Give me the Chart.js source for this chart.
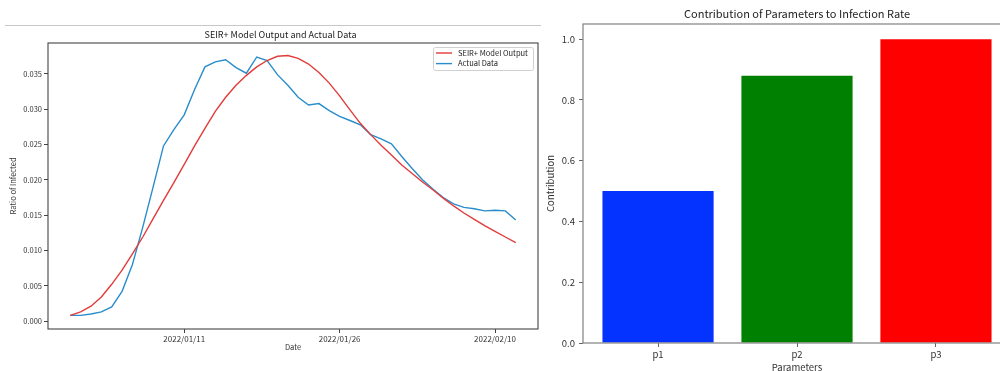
<!DOCTYPE html>
<html><head><meta charset="utf-8">
<script src="https://cdn.jsdelivr.net/npm/chart.js@4.4.0/dist/chart.umd.min.js"></script>
<style>
html,body{margin:0;padding:0;background:#fff;width:1004px;height:371px;overflow:hidden;position:relative;}
#sep{position:absolute;left:5px;top:25px;width:536px;height:1px;background:#c8c8c8;}
#c1{position:absolute;left:0;top:0;width:561px;height:371px;}
#wrap2{position:absolute;left:540px;top:0;width:460px;height:371px;overflow:hidden;}
#c2{position:absolute;left:0;top:0;width:514px;height:380px;}
</style></head><body>
<div id="sep"></div>
<canvas id="c1" width="561" height="371"></canvas>
<div id="wrap2"><canvas id="c2" width="514" height="380"></canvas></div>
<script>
// ---------- data: left chart ----------
const dates = ['2021/12/31','2022/01/01','2022/01/02','2022/01/03','2022/01/04','2022/01/05','2022/01/06','2022/01/07','2022/01/08','2022/01/09',
  '2022/01/10','2022/01/11','2022/01/12','2022/01/13','2022/01/14','2022/01/15','2022/01/16','2022/01/17','2022/01/18','2022/01/19',
  '2022/01/20','2022/01/21','2022/01/22','2022/01/23','2022/01/24','2022/01/25','2022/01/26','2022/01/27','2022/01/28','2022/01/29',
  '2022/01/30','2022/01/31','2022/02/01','2022/02/02','2022/02/03','2022/02/04','2022/02/05','2022/02/06','2022/02/07','2022/02/08',
  '2022/02/09','2022/02/10','2022/02/11','2022/02/12'];
const seirModel = [0.0008,0.0013,0.0021,0.0034,0.0052,0.0072,0.0095,0.0119,0.0145,0.0171,
  0.0196,0.0222,0.0248,0.0273,0.0297,0.0317,0.0334,0.0348,0.0360,0.0369,
  0.0375,0.0376,0.0372,0.0364,0.0352,0.0337,0.0319,0.0299,0.0280,0.0264,
  0.0249,0.0235,0.0221,0.0209,0.0197,0.0186,0.0174,0.0163,0.0153,0.0144,
  0.0135,0.0127,0.0119,0.0111];
const actualData = [0.0008,0.0008,0.0010,0.0013,0.0020,0.0042,0.0080,0.0133,0.0190,0.0248,
  0.0271,0.0292,0.0328,0.0360,0.0367,0.0370,0.0359,0.0351,0.0374,0.0369,
  0.0349,0.0334,0.0317,0.0306,0.0308,0.0298,0.0290,0.0284,0.0278,0.0264,
  0.0258,0.0251,0.0233,0.0216,0.0200,0.0187,0.0175,0.0166,0.0161,0.0159,
  0.0156,0.0157,0.0156,0.0143];
const xTickLabels = ['2022/01/11','2022/01/26','2022/02/10'];
const yTicksLeft = [0.000,0.005,0.010,0.015,0.020,0.025,0.030,0.035];

// ---------- data: right chart ----------
const params = ['p1','p2','p3'];
const contributions = [0.50,0.88,1.00];
const yTicksRight = [0.0,0.2,0.4,0.6,0.8,1.0];

// ---------- styles ----------
const barColors = ['#0433ff','#008000','#ff0000'];
const FONT = "'Noto Sans CJK JP','Noto Sans',sans-serif";
Chart.defaults.font.family = FONT;
Chart.defaults.color = '#333';

const framePlugin = (color, width) => ({
  id: 'frame',
  afterDraw(chart) {
    const {ctx, chartArea: a} = chart;
    ctx.save();
    ctx.strokeStyle = color; ctx.lineWidth = width;
    ctx.strokeRect(a.left, a.top, a.right - a.left, a.bottom - a.top);
    ctx.restore();
  }
});

const boxLegend = {
  id: 'boxLegend',
  afterDraw(chart) {
    const {ctx, chartArea: a} = chart;
    const w = 100, h = 23, right = a.right - 5, top = a.top + 4, left = right - w;
    ctx.save();
    ctx.fillStyle = 'rgba(255,255,255,0.85)';
    ctx.strokeStyle = '#d0d0d0'; ctx.lineWidth = 1;
    ctx.beginPath();
    if (ctx.roundRect) ctx.roundRect(left + 0.5, top + 0.5, w, h, 2); else ctx.rect(left + 0.5, top + 0.5, w, h);
    ctx.fill(); ctx.stroke();
    ctx.font = '7.5px ' + FONT;
    ctx.textBaseline = 'middle';
    chart.data.datasets.forEach((ds, i) => {
      const y = top + 6 + i * 10.6;
      ctx.strokeStyle = ds.borderColor; ctx.lineWidth = 1.4;
      ctx.beginPath(); ctx.moveTo(left + 3, y); ctx.lineTo(left + 19, y); ctx.stroke();
      ctx.fillStyle = '#222';
      ctx.fillText(ds.label, left + 25, y);
    });
    ctx.restore();
  }
};

new Chart(document.getElementById('c1'), {
  type: 'line',
  data: {
    datasets: [
      {label: 'SEIR+ Model Output', data: seirModel.map((v, i) => ({x: i, y: v})), borderColor: '#e23b3b', borderWidth: 1.4, pointRadius: 0, tension: 0, fill: false},
      {label: 'Actual Data', data: actualData.map((v, i) => ({x: i, y: v})), borderColor: '#2a8dcb', borderWidth: 1.4, pointRadius: 0, tension: 0, fill: false}
    ]
  },
  options: {
    responsive: false, animation: false, devicePixelRatio: 1,
    layout: {padding: 0},
    plugins: {
      legend: {display: false}, tooltip: {enabled: false},
      title: {display: true, text: 'SEIR+ Model Output and Actual Data', color: '#222',
        font: {size: 9, weight: 'normal'}, padding: {top: 29.6, bottom: 2.6}}
    },
    scales: {
      x: {
        type: 'linear', min: -2.15, max: 45.15, offset: false,
        afterBuildTicks: s => { s.ticks = xTickLabels.map(l => ({value: dates.indexOf(l)})); },
        ticks: {callback: v => dates[v], font: {size: 8}, color: '#333', padding: 1, maxRotation: 0, autoSkip: false},
        grid: {display: true, drawOnChartArea: false, drawTicks: true, tickLength: 4, color: '#444'},
        border: {display: false},
        title: {display: true, text: 'Date', font: {size: 7.5}, color: '#333', padding: {top: 0, bottom: 19}},
        afterFit: s => { s.height = 42; }
      },
      y: {
        type: 'linear', min: -0.00113, max: 0.03938,
        afterBuildTicks: s => { s.ticks = yTicksLeft.map(v => ({value: v})); },
        ticks: {callback: v => Number(v).toFixed(3), font: {size: 7.5}, color: '#333', padding: 2},
        grid: {display: true, drawOnChartArea: false, drawTicks: true, tickLength: 4, color: '#444'},
        border: {display: false},
        title: {display: true, text: 'Ratio of Infected', font: {size: 7.5}, color: '#333', padding: {top: 9, bottom: 0}},
        afterFit: s => { s.width = 48; }
      },
      y2: {
        type: 'linear', position: 'right', display: true,
        grid: {display: false}, ticks: {display: false}, border: {display: false},
        afterFit: s => { s.width = 23; }
      }
    }
  },
  plugins: [framePlugin('#444', 1.1), boxLegend]
});

new Chart(document.getElementById('c2'), {
  type: 'bar',
  data: {
    datasets: [{
      label: 'Contribution',
      data: contributions.map((v, i) => ({x: i, y: v})),
      backgroundColor: barColors, borderWidth: 0,
      barPercentage: 1.0, categoryPercentage: 0.8
    }]
  },
  options: {
    responsive: false, animation: false, devicePixelRatio: 1,
    layout: {padding: 0},
    plugins: {
      legend: {display: false}, tooltip: {enabled: false},
      title: {display: true, text: 'Contribution of Parameters to Infection Rate', color: '#222',
        font: {size: 11, weight: 'normal'}, padding: {top: 7.4, bottom: 3.4}}
    },
    scales: {
      x: {
        type: 'linear', min: -0.54, max: 2.54, offset: false,
        afterBuildTicks: s => { s.ticks = params.map((p, i) => ({value: i})); },
        ticks: {callback: v => params[v], font: {size: 9.5}, color: '#333', padding: 2, maxRotation: 0, autoSkip: false},
        grid: {display: true, drawOnChartArea: false, drawTicks: true, tickLength: 4, color: '#666', offset: false},
        border: {display: false},
        title: {display: true, text: 'Parameters', font: {size: 9.5}, color: '#333', padding: {top: 0, bottom: 7}},
        afterFit: s => { s.height = 37; }
      },
      y: {
        type: 'linear', min: 0, max: 1.05,
        afterBuildTicks: s => { s.ticks = yTicksRight.map(v => ({value: v})); },
        ticks: {callback: v => Number(v).toFixed(1), font: {size: 9.5}, color: '#333', padding: 4},
        grid: {display: true, drawOnChartArea: false, drawTicks: true, tickLength: 4, color: '#666'},
        border: {display: false},
        title: {display: true, text: 'Contribution', font: {size: 9.5}, color: '#333', padding: {top: 4.5, bottom: 0}},
        afterFit: s => { s.width = 43; }
      },
      y2: {
        type: 'linear', position: 'right', display: true,
        grid: {display: false}, ticks: {display: false}, border: {display: false},
        afterFit: s => { s.width = 43; }
      }
    }
  },
  plugins: [framePlugin('#808080', 1.2)]
});
</script>
</body></html>
